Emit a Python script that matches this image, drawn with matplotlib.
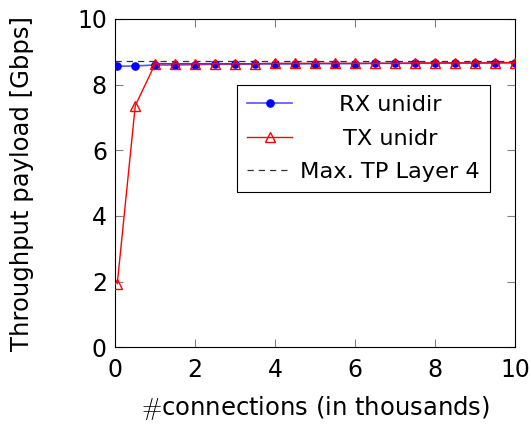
import matplotlib
matplotlib.use("Agg")
import matplotlib.pyplot as plt
from matplotlib.transforms import Affine2D
import numpy as np

plt.rcParams['font.family'] = ['DejaVu Sans']
plt.rcParams['mathtext.fontset'] = 'cm'

conns = np.array([0.05, 0.5, 1.0, 1.5, 2.0, 2.5, 3.0, 3.5, 4.0, 4.5, 5.0,
                  5.5, 6.0, 6.5, 7.0, 7.5, 8.0, 8.5, 9.0, 9.5, 10.0])
rx = np.array([8.56, 8.57, 8.60, 8.60, 8.61, 8.62, 8.62, 8.63, 8.63, 8.63, 8.64,
               8.64, 8.64, 8.65, 8.65, 8.65, 8.66, 8.66, 8.66, 8.67, 8.67])
tx = np.array([1.94, 7.36, 8.64, 8.64, 8.64, 8.64, 8.64, 8.64, 8.65, 8.65, 8.65,
               8.65, 8.65, 8.65, 8.65, 8.66, 8.66, 8.66, 8.66, 8.66, 8.67])
max_tp = 8.72

fig = plt.figure(figsize=(5.31, 4.25), dpi=100)
ax = fig.add_axes([0.2171, 0.1828, 0.7528, 0.7725])

ax.plot(conns, rx, color="#5555ff", lw=1.2, marker="o", markersize=5.2,
        markerfacecolor="blue", markeredgecolor="blue", label="RX unidir", zorder=3)
ax.plot(conns, tx, color="red", lw=1.0, marker="^", markersize=7.5,
        markerfacecolor="none", markeredgecolor="red", label="TX unidr", zorder=4)
ax.plot([0, 10], [max_tp, max_tp], color="#333333", lw=0.9, ls=(0, (5, 4)),
        label="Max. TP Layer 4", zorder=2)

ax.set_xlim(0, 10)
ax.set_ylim(0, 10)
ax.set_xticks([0, 2, 4, 6, 8, 10])
ax.set_yticks([0, 2, 4, 6, 8, 10])
ax.tick_params(direction="in", length=6, width=0.8, color="#808080",
               top=True, right=True, labelsize=17)
ax.tick_params(axis="x", pad=7.5)
ax.tick_params(axis="y", pad=6)
for s in ax.spines.values():
    s.set_linewidth(0.8)

ax.set_xlabel(r"$\#$connections (in thousands)", fontsize=17.5, labelpad=9)
ax.set_ylabel("Throughput payload [Gbps]", fontsize=17.5, labelpad=31)

leg = ax.legend(loc="upper right", bbox_to_anchor=(0.9375, 0.799), fontsize=16.2,
                fancybox=False, edgecolor="black", framealpha=1,
                handlelength=2.0, handletextpad=0.35, borderpad=0.45,
                labelspacing=0.6, borderaxespad=0)
leg.get_frame().set_linewidth(0.8)

# centre the legend texts in their column, as pgfplots does
fig.canvas.draw()
r = fig.canvas.get_renderer()
texts = leg.get_texts()
widths = [t.get_window_extent(r).width for t in texts]
wmax = max(widths)
for t, w in zip(texts, widths):
    t.set_transform(t.get_transform() + Affine2D().translate((wmax - w) / 2, 0))

fig.savefig("out.png", dpi=100)
